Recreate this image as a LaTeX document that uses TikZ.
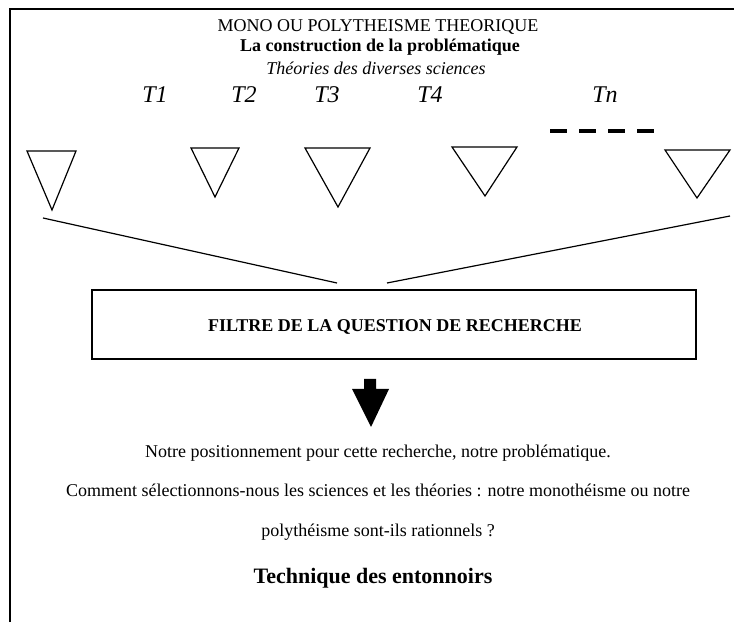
\documentclass[tikz,border=0pt]{standalone}
\usepackage{fontspec}
\setmainfont{Liberation Serif}
\begin{document}
\begin{tikzpicture}[x=1pt,y=1pt,
		txt/.style={inner sep=0pt, font=\fontsize{18}{20}\selectfont},
		funnel/.style={line width=1.2pt, line join=miter},
		theorie/.style={inner sep=0pt, font=\fontsize{24}{26}\selectfont\itshape}]
		\useasboundingbox (0,0) rectangle (734,622);
		\draw[line width=1.8pt] (10,0) -- (10,613) -- (734,613);

		\node[txt] (titre) at (378,595) {MONO OU POLYTHEISME THEORIQUE};
		\node[txt, font=\fontsize{18}{20}\selectfont\bfseries] (construction) at (380,575) {La construction de la problématique};
		\node[txt, font=\fontsize{18}{20}\selectfont\itshape] (sciences) at (376,554) {Théories des diverses sciences};

		\foreach \x/\t in {155/1, 244/2, 327/3, 430/4, 605/n}
			\node[theorie] (T\t) at (\x,527) {T\t};
		\draw[line width=4pt, dash pattern=on 17pt off 12pt] (550,491) -- (654,491);

		\foreach \a/\b/\h/\p/\q in {27/76/471/52/412, 191/239/474/215/425, 305/370/474/338/415, 452/517/475/485/426, 665/730/472/697/424}
			\draw[funnel] (\a,\h) -- (\b,\h) -- (\p,\q) -- cycle;

		\coordinate (gauche) at (43,404);
		\coordinate (droite) at (730,406);
		\coordinate (entreeG) at (337,339);
		\coordinate (entreeD) at (387,339);
		\draw[funnel] (gauche) -- (entreeG);
		\draw[funnel] (droite) -- (entreeD);

		\node[draw, line width=1.2pt, minimum width=604pt, minimum height=69pt, inner sep=0pt] (filtre) at (394,297.5) {};
		\node[txt, font=\fontsize{18}{20}\selectfont\bfseries] (filtretxt) at (395,295) {FILTRE DE LA QUESTION DE RECHERCHE};

		\fill (364,243) -- (376,243) -- (376,233) -- (389,233) -- (371,195) -- (352,233) -- (364,233) -- cycle;

		\node[txt] (position) at (378,169) {Notre positionnement pour cette recherche, notre problématique.};
		\node[txt] (question) at (378,132) {Comment sélectionnons-nous les sciences et les théories : notre monothéisme ou notre};
		\node[txt] (question2) at (378,90) {polythéisme sont-ils rationnels ?};
		\node[txt, font=\fontsize{22}{24}\selectfont\bfseries] (technique) at (373,44) {Technique des entonnoirs};
	\end{tikzpicture}
\end{document}
